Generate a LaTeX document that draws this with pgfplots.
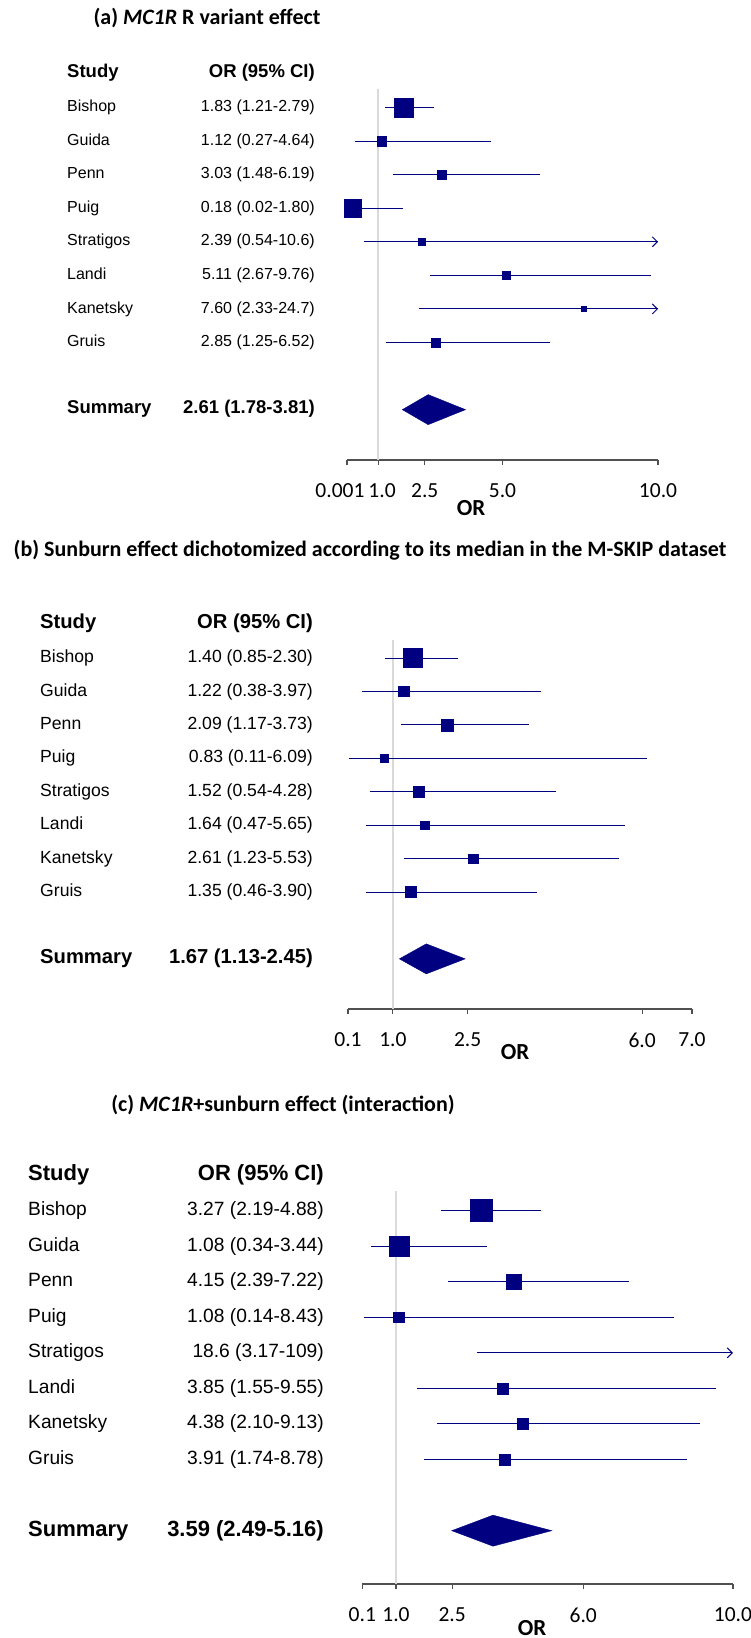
\documentclass[border=0pt]{standalone}
\usepackage{fontspec}
\setmainfont{Liberation Sans}
\newfontfamily\calfont{Carlito}
\usepackage{pgfplots}
\pgfplotsset{compat=1.18}
\usepackage{pgfplotstable}
\usetikzlibrary{arrows.meta}
\definecolor{navy}{RGB}{0,0,128}
\definecolor{refgray}{RGB}{218,218,218}
\definecolor{axgray}{RGB}{80,80,80}
\newcommand{\fs}[1]{\fontsize{#1pt}{#1pt}\selectfont}

% row  OR  lower  upper  half-size of box (pt)
\pgfplotstableread{
row or lo hi w
1 1.83 1.21 2.79 9.6
2 1.12 0.27 4.64 4.7
3 3.03 1.48 6.19 4.5
4 0.18 0.02 1.80 8.9
5 2.39 0.54 10.6 3.6
6 5.11 2.67 9.76 4.0
7 7.60 2.33 24.7 2.5
8 2.85 1.25 6.52 4.7
}\taba
\pgfplotstableread{
row or lo hi w
1 1.40 0.85 2.30 9.5
2 1.22 0.38 3.97 5.2
3 2.09 1.17 3.73 5.9
4 0.83 0.11 6.09 4.1
5 1.52 0.54 4.28 5.1
6 1.64 0.47 5.65 4.3
7 2.61 1.23 5.53 4.7
8 1.35 0.46 3.90 5.4
}\tabb
\pgfplotstableread{
row or lo hi w
1 3.27 2.19 4.88 11.1
2 1.08 0.34 3.44 10.2
3 4.15 2.39 7.22 7.3
4 1.08 0.14 8.43 5.3
5 18.6 3.17 109 5.5
6 3.85 1.55 9.55 5.5
7 4.38 2.10 9.13 5.5
8 3.91 1.74 8.78 5.5
}\tabc

\pgfplotsset{forest/.style={
  scale only axis, clip=false,
  axis x line*=bottom, axis y line=none,
  y dir=reverse, ymin=0.45, ymax=11.5,
  xtick align=outside, major tick length=5pt,
  x axis line style={draw=axgray, line width=1.2pt},
  every x tick/.style={draw=axgray, line width=1.2pt},
  xticklabel style={font=\calfont\fs{21.5}, text=black, anchor=center, yshift=-26pt},
  ytick=\empty,
}}
\pgfplotsset{boxes/.style={scatter, only marks, mark=square*,
  scatter/use mapped color={draw=navy, fill=navy},
  visualization depends on={\thisrow{w} \as \w},
  scatter/@pre marker code/.append style={/tikz/mark size=\w}}}
\pgfplotsset{cis/.style={draw=none, mark=none,
  error bars/.cd, x dir=both, x explicit, error mark=none,
  error bar style={navy, line width=1pt}}}

\begin{document}
\begin{tikzpicture}
\useasboundingbox (0,0) rectangle (751pt,-1638pt);

% ---------------- Panel (a)
\node[anchor=base, font=\calfont\bfseries\fs{22}, inner sep=0] at (207pt,-24.6pt) {(a) \textit{MC1R} R variant effect};
\node[anchor=base west, font=\bfseries\fs{18.5}, inner sep=0] at (67pt,-77.8pt) {Study};
\node[anchor=base east, font=\bfseries\fs{18.5}, inner sep=0] at (315pt,-77.8pt) {OR (95\% CI)};
\foreach \n/\v [count=\i] in {Bishop/{1.83 (1.21-2.79)},Guida/{1.12 (0.27-4.64)},Penn/{3.03 (1.48-6.19)},Puig/{0.18 (0.02-1.80)},Stratigos/{2.39 (0.54-10.6)},Landi/{5.11 (2.67-9.76)},Kanetsky/{7.60 (2.33-24.7)},Gruis/{2.85 (1.25-6.52)}}{
  \pgfmathsetmacro\yy{-(107.5+(\i-1)*33.57+4.2)}
  \node[anchor=base west, font=\fs{16}, inner sep=0] at (67pt,\yy pt) {\n};
  \node[anchor=base east, font=\fs{16}, inner sep=0] at (315pt,\yy pt) {\v};
}
\node[anchor=base west, font=\bfseries\fs{18.5}, inner sep=0] at (67pt,-413.8pt) {Summary};
\node[anchor=base east, font=\bfseries\fs{18.5}, inner sep=0] at (315pt,-413.8pt) {2.61 (1.78-3.81)};
\node[anchor=base, font=\calfont\bfseries\fs{23}, inner sep=0] at (471pt,-515.4pt) {OR};

\begin{axis}[forest, at={(347pt,-460pt)}, anchor=south west,
  width=311pt, height=371pt, xmin=0, xmax=10,
  xtick={0,1,2.5,5,10}, xticklabels={{\kern-14pt 0.001},{\kern8pt 1.0},2.5,5.0,10.0}]
\addplot[refgray, line width=1.5pt] coordinates {(1,0.45) (1,11.5)};
\addplot[cis] table[x=or, y=row, x error plus expr={min(\thisrow{hi},10)-\thisrow{or}}, x error minus expr={\thisrow{or}-\thisrow{lo}}] {\taba};
\addplot[navy, line width=1pt, -{Straight Barb[length=5pt,width=10pt]}] coordinates {(0.54,5) (10,5)};
\addplot[navy, line width=1pt, -{Straight Barb[length=5pt,width=10pt]}] coordinates {(2.33,7) (10,7)};
\addplot[boxes] table[x=or, y=row] {\taba};
\addplot[fill=navy, draw=navy] coordinates {(1.78,10) (2.61,9.553) (3.81,10) (2.61,10.447)} -- cycle;
\end{axis}

% ---------------- Panel (b)
\node[anchor=base, font=\calfont\bfseries\fs{22}, inner sep=0] at (370pt,-556.6pt) {(b) Sunburn effect dichotomized according to its median in the M-SKIP dataset};
\node[anchor=base west, font=\bfseries\fs{20.2}, inner sep=0] at (40pt,-628.3pt) {Study};
\node[anchor=base east, font=\bfseries\fs{20.2}, inner sep=0] at (313pt,-628.3pt) {OR (95\% CI)};
\foreach \n/\v [count=\i] in {Bishop/{1.40 (0.85-2.30)},Guida/{1.22 (0.38-3.97)},Penn/{2.09 (1.17-3.73)},Puig/{0.83 (0.11-6.09)},Stratigos/{1.52 (0.54-4.28)},Landi/{1.64 (0.47-5.65)},Kanetsky/{2.61 (1.23-5.53)},Gruis/{1.35 (0.46-3.90)}}{
  \pgfmathsetmacro\yy{-(658+(\i-1)*33.43+4.6)}
  \node[anchor=base west, font=\fs{17.6}, inner sep=0] at (40pt,\yy pt) {\n};
  \node[anchor=base east, font=\fs{17.6}, inner sep=0] at (313pt,\yy pt) {\v};
}
\node[anchor=base west, font=\bfseries\fs{20.2}, inner sep=0] at (40pt,-963.8pt) {Summary};
\node[anchor=base east, font=\bfseries\fs{20.2}, inner sep=0] at (313pt,-963.8pt) {1.67 (1.13-2.45)};
\node[anchor=base, font=\calfont\bfseries\fs{23}, inner sep=0] at (515pt,-1059.4pt) {OR};

\begin{axis}[forest, at={(348pt,-1009pt)}, anchor=south west,
  width=344pt, height=369.4pt, xmin=0.1, xmax=7,
  xtick={0.1,1,2.5,6,7}, xticklabels={0.1,1.0,2.5,6.0,7.0}]
\addplot[refgray, line width=1.5pt] coordinates {(1,0.45) (1,11.5)};
\addplot[cis] table[x=or, y=row, x error plus expr={\thisrow{hi}-\thisrow{or}}, x error minus expr={\thisrow{or}-\thisrow{lo}}] {\tabb};
\addplot[boxes] table[x=or, y=row] {\tabb};
\addplot[fill=navy, draw=navy] coordinates {(1.13,10) (1.67,9.551) (2.45,10) (1.67,10.449)} -- cycle;
\end{axis}

% ---------------- Panel (c)
\node[anchor=base, font=\calfont\bfseries\fs{22}, inner sep=0] at (283pt,-1111.6pt) {(c) \textit{MC1R}+sunburn effect (interaction)};
\node[anchor=base west, font=\bfseries\fs{22}, inner sep=0] at (28pt,-1180.7pt) {Study};
\node[anchor=base east, font=\bfseries\fs{22}, inner sep=0] at (324pt,-1180.7pt) {OR (95\% CI)};
\foreach \n/\v [count=\i] in {Bishop/{3.27 (2.19-4.88)},Guida/{1.08 (0.34-3.44)},Penn/{4.15 (2.39-7.22)},Puig/{1.08 (0.14-8.43)},Stratigos/{18.6 (3.17-109)},Landi/{3.85 (1.55-9.55)},Kanetsky/{4.38 (2.10-9.13)},Gruis/{3.91 (1.74-8.78)}}{
  \pgfmathsetmacro\yy{-(1210.5+(\i-1)*35.57+5)}
  \node[anchor=base west, font=\fs{19.2}, inner sep=0] at (28pt,\yy pt) {\n};
  \node[anchor=base east, font=\fs{19.2}, inner sep=0] at (324pt,\yy pt) {\v};
}
\node[anchor=base west, font=\bfseries\fs{22}, inner sep=0] at (28pt,-1536.7pt) {Summary};
\node[anchor=base east, font=\bfseries\fs{22}, inner sep=0] at (324pt,-1536.7pt) {3.59 (2.49-5.16)};
\node[anchor=base, font=\calfont\bfseries\fs{23}, inner sep=0] at (532pt,-1635.4pt) {OR};

\begin{axis}[forest, at={(362.3pt,-1584pt)}, anchor=south west,
  width=370.7pt, height=393pt, xmin=0.1, xmax=10,
  xtick={0.1,1,2.5,6,10}, xticklabels={0.1,1.0,2.5,6.0,10.0}]
\addplot[refgray, line width=1.5pt] coordinates {(1,0.45) (1,11.5)};
\addplot[restrict x to domain=0:10, cis] table[x=or, y=row, x error plus expr={\thisrow{hi}-\thisrow{or}}, x error minus expr={\thisrow{or}-\thisrow{lo}}] {\tabc};
\addplot[navy, line width=1pt, -{Straight Barb[length=5pt,width=10pt]}] coordinates {(3.17,5) (10,5)};
\addplot[restrict x to domain=0:10, boxes] table[x=or, y=row] {\tabc};
\addplot[fill=navy, draw=navy] coordinates {(2.49,10) (3.59,9.564) (5.16,10) (3.59,10.436)} -- cycle;
\end{axis}
\end{tikzpicture}
\end{document}
